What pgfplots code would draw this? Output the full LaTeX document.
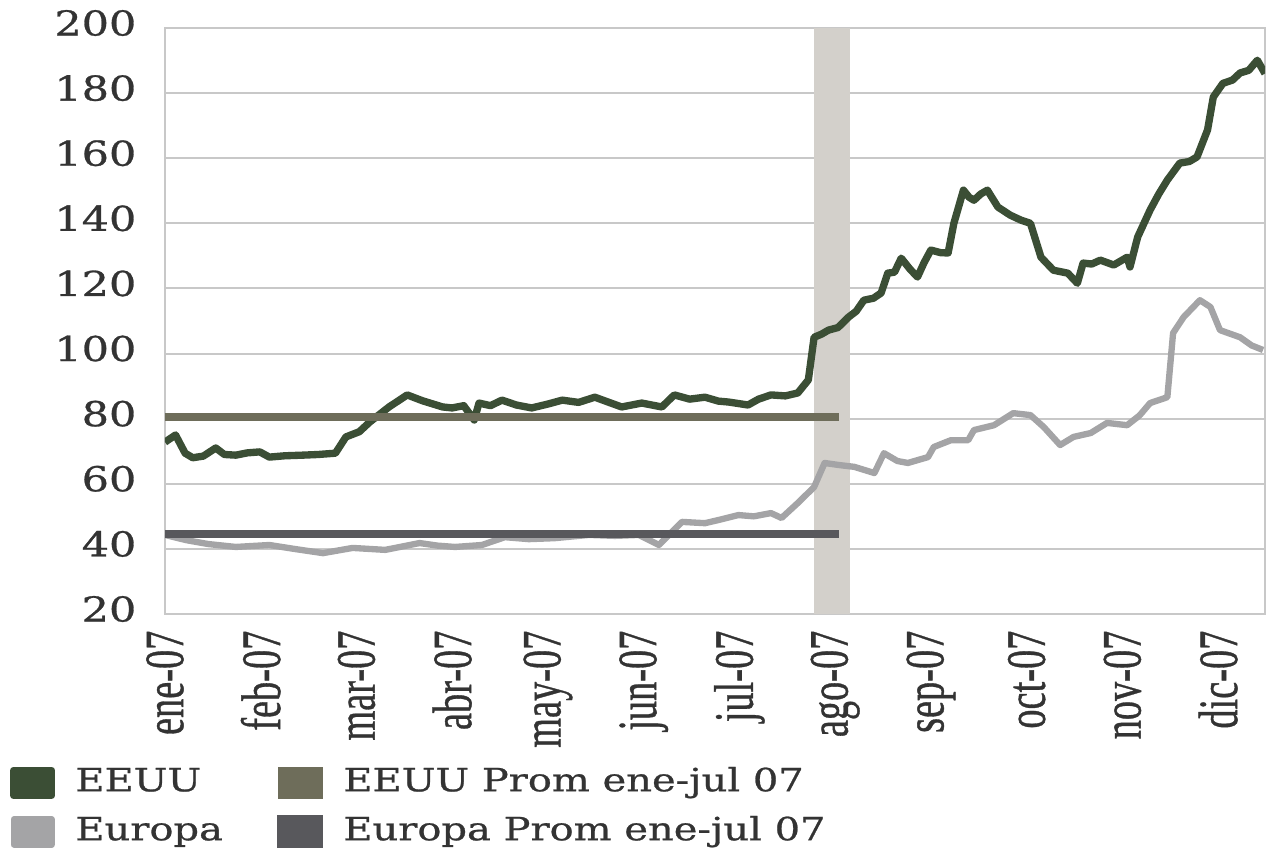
\documentclass[border=0pt]{standalone}
\usepackage{pgfplots}
\pgfplotsset{compat=1.18}
\usepackage{fontspec}
\setmainfont{Liberation Serif}
\newfontfamily\stretchfont{DejaVu Serif}[FakeStretch=1.25,FakeBold=0.8]
\newfontfamily\xfont{Liberation Serif}[FakeBold=0.8]
\definecolor{eeuu}{HTML}{3B4E35}
\definecolor{eeuuavg}{HTML}{6E6D5A}
\definecolor{europa}{HTML}{A4A4A6}
\definecolor{europaavg}{HTML}{58585C}
\definecolor{band}{HTML}{D3D0CB}
\definecolor{gridc}{HTML}{C8C8C8}
\definecolor{txt}{HTML}{333333}
\begin{document}
\begin{tikzpicture}
\begin{axis}[
 scale only axis, width=330pt, height=175.8pt,
 xmin=0, xmax=11.49, ymin=20, ymax=200,
 ytick={20,40,...,200},
 xtick={0,...,11},
 xticklabels={\scalebox{1}[1.45]{ene-07},\scalebox{1}[1.45]{feb-07},\scalebox{1}[1.45]{mar-07},\scalebox{1}[1.45]{abr-07},\scalebox{1}[1.45]{may-07},\scalebox{1}[1.45]{jun-07},\scalebox{1}[1.45]{jul-07},\scalebox{1}[1.45]{ago-07},\scalebox{1}[1.45]{sep-07},\scalebox{1}[1.45]{oct-07},\scalebox{1}[1.45]{nov-07},\scalebox{1}[1.45]{dic-07}},
 major tick length=0pt,
 ymajorgrids, grid style={gridc, line width=0.6pt},
 axis line style={gridc, line width=0.8pt},
 /pgf/number format/assume math mode=true,
 yticklabel style={font=\stretchfont\fontsize{10.3}{12}\selectfont, text=txt, inner ysep=0pt, inner xsep=8.4pt, yshift=1.5pt},
 xticklabel style={rotate=90, anchor=east, font=\xfont\fontsize{11.5}{13}\selectfont, text=txt, inner ysep=0pt, inner xsep=4.8pt},
 legend image code/.code={\fill[#1] (0pt,-3.75pt) rectangle (11.4pt,3.75pt);},
 legend columns=2,
 legend cell align=left,
 legend style={draw=none, fill=none, at={(axis description cs:-0.1415,-0.330)}, anchor=west,
   inner sep=0pt, font=\stretchfont\fontsize{9.6}{11}\selectfont, text=txt, row sep=4.7pt,
   nodes={inner sep=0pt, text height=7.5pt, text depth=2.5pt},
   /tikz/every odd column/.append style={column sep=6pt},
   /tikz/every even column/.append style={column sep=16.3pt}},
]
\coordinate (O) at (rel axis cs:0,0);
\addplot[fill=band, draw=none, forget plot] coordinates {(6.78,200) (7.15,200)} \closedcycle;

\addplot[color=eeuu, line width=2.2pt, line join=round] coordinates {
(0.00,72.8) (0.11,75.0) (0.21,69.4) (0.29,68.0) (0.40,68.5) (0.53,71.0) (0.62,69.0) (0.74,68.8) (0.86,69.5) (0.99,69.8) (1.09,68.2) (1.25,68.6) (1.44,68.8) (1.60,69.0) (1.78,69.4)
(1.89,74.4) (2.03,76.0) (2.14,79.0) (2.34,83.6) (2.53,87.3) (2.69,85.5) (2.90,83.6) (3.00,83.3) (3.12,84.0) (3.23,79.6) (3.28,84.8) (3.40,84.0) (3.52,85.7) (3.67,84.2) (3.83,83.3)
(4.00,84.5) (4.15,85.7) (4.32,85.0) (4.49,86.6) (4.62,85.2) (4.77,83.6) (4.98,84.8) (5.19,83.6) (5.32,87.3) (5.48,86.0) (5.64,86.6) (5.78,85.4) (5.89,85.1) (6.09,84.2) (6.20,86.0)
(6.33,87.3) (6.48,87.0) (6.61,87.9) (6.72,91.9) (6.78,105.0) (6.86,106.0) (6.93,107.2) (7.03,108.0) (7.14,111.2) (7.22,113.0) (7.30,116.4) (7.40,117.0) (7.48,118.6) (7.55,124.7) (7.62,125.0)
(7.69,129.3) (7.78,126.0) (7.86,123.5) (7.93,128.0) (8.00,131.8) (8.10,131.0) (8.18,130.9) (8.24,140.0) (8.34,150.2) (8.40,148.0) (8.45,147.1) (8.52,149.0) (8.59,150.2) (8.70,145.0)
(8.83,142.5) (8.94,141.0) (9.04,140.0) (9.15,129.6) (9.28,125.6) (9.43,124.7) (9.53,121.6) (9.59,127.8) (9.68,127.5) (9.77,128.7) (9.91,127.2) (10.05,129.6) (10.08,126.6)
(10.16,135.8) (10.29,144.1) (10.38,149.0) (10.47,153.3) (10.60,158.5) (10.70,159.0) (10.78,160.4) (10.89,168.7) (10.95,178.8) (11.05,183.0) (11.15,184.0) (11.23,186.2) (11.32,187.0) (11.41,190.1) (11.49,186.0)};
\addlegendentry{EEUU}

\addplot[color=eeuuavg, line width=2.2pt] coordinates {(0,80.5) (7.04,80.5)};
\addlegendentry{EEUU Prom ene-jul 07}

\addplot[color=europa, line width=1.9pt, line join=round] coordinates {
(0.00,44.3) (0.22,42.7) (0.45,41.5) (0.74,40.6) (1.09,41.2) (1.35,40.0) (1.65,38.7) (1.96,40.3) (2.30,39.7) (2.66,41.8) (2.85,41.0) (3.03,40.6) (3.31,41.2) (3.55,43.6) (3.80,43.0)
(4.07,43.3) (4.43,44.3) (4.70,44.0) (4.95,44.3) (5.16,41.2) (5.40,48.3) (5.64,47.9) (5.80,49.0) (5.99,50.4) (6.15,50.0) (6.33,51.0) (6.44,49.5) (6.61,54.1) (6.78,59.0) (6.89,66.4)
(7.03,65.8) (7.20,65.2) (7.41,63.3) (7.51,69.4) (7.65,67.0) (7.76,66.4) (7.97,68.2) (8.03,71.3) (8.21,73.4) (8.39,73.4) (8.45,76.5) (8.66,78.0) (8.86,81.7) (9.04,81.1) (9.18,77.4)
(9.35,71.9) (9.49,74.4) (9.67,75.6) (9.84,78.7) (10.05,78.0) (10.18,81.0) (10.29,84.8) (10.47,86.6) (10.53,106.3) (10.64,111.2) (10.81,116.4) (10.92,114.3) (11.02,107.2) (11.23,105.0) (11.35,102.5) (11.47,101.1)};
\addlegendentry{Europa}

\addplot[color=europaavg, line width=2.4pt] coordinates {(0,44.6) (7.04,44.6)};
\addlegendentry{Europa Prom ene-jul 07}
\end{axis}
\pgfresetboundingbox
\path (O) ++(-49.5pt,-71.1pt) rectangle ++(380.4pt,255.3pt);
\end{tikzpicture}
\end{document}
